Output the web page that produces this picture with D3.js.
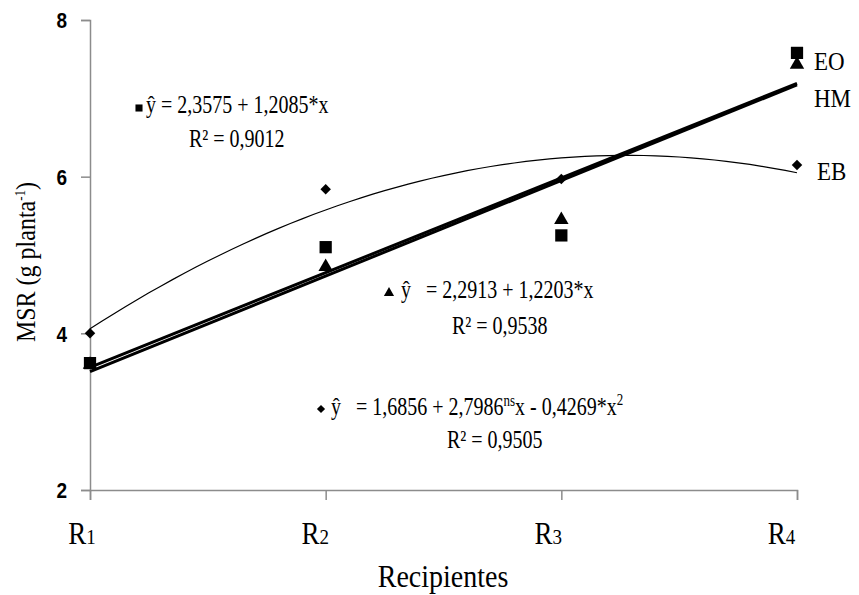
<!DOCTYPE html>
<html>
<head>
<meta charset="utf-8">
<script src="https://cdn.jsdelivr.net/npm/d3@7"></script>
<style>
  body { margin: 0; background: #fff; }
  svg { display: block; }
  text { font-family: "Liberation Serif", "Times New Roman", serif; fill: #000; }
  .ytick text { font-family: "Liberation Sans", Arial, sans-serif; font-weight: bold; }
</style>
</head>
<body>
<svg width="859" height="595"></svg>
<script>
const recipients = ["R1", "R2", "R3", "R4"];
const xs = [1, 2, 3, 4];
const eoValues = [3.62, 5.1, 5.25, 7.58];   // squares
const hmValues = [3.6, 4.85, 5.45, 7.43];   // triangles
const ebValues = [4.0, 5.84, 5.97, 6.15];   // diamonds
const yTicks = [2, 4, 6, 8];

const eoFit = [2.3575, 1.2085];
const hmFit = [2.2913, 1.2203];
const ebFit = [1.6856, 2.7986, -0.4269];

const svg = d3.select("svg");
const x = d3.scaleLinear().domain([1, 4]).range([90, 797]);
const y = d3.scaleLinear().domain([2, 8]).range([490, 20]);

// text that is a bit taller than wide, like the original export
function label(px, py, size, sy, anchor) {
  return svg.append("text")
    .attr("transform", `translate(${px},${py}) scale(1,${sy})`)
    .attr("font-size", size)
    .attr("text-anchor", anchor || "start")
    .attr("xml:space", "preserve");
}

// axes
const yAxis = svg.append("g").attr("class", "ytick").attr("transform", "translate(90,0)")
  .call(d3.axisLeft(y).tickValues(yTicks).tickSize(9).tickPadding(14).tickFormat(d3.format("d")));
yAxis.selectAll(".tick text").attr("font-size", 19).attr("dy", "0.36em")
  .attr("transform", "scale(1,1.15)");

svg.append("g").attr("transform", "translate(0,490)")
  .call(d3.axisBottom(x).tickValues(xs).tickSize(10).tickFormat(""));

svg.selectAll(".domain, .tick line").attr("stroke", "#8c8c8c").attr("stroke-width", 1.5);

// x tick labels: R with small digit
recipients.forEach((r, i) => {
  const t = label(x(xs[i]) - 8 - 2.5 * i, 544, 27, 1.15, "middle");
  t.append("tspan").text(r[0]);
  t.append("tspan").attr("font-size", 19).text(r.slice(1));
});

label(443, 587, 28, 1.1, "middle").text("Recipientes");

const yt = svg.append("text").attr("transform", "translate(35,262) rotate(-90) scale(1,1.15)")
  .attr("text-anchor", "middle").attr("font-size", 24);
yt.append("tspan").text("MSR (g planta");
yt.append("tspan").attr("font-size", 13).attr("dy", -9).text("-1");
yt.append("tspan").attr("dy", 9).text(")");

// regression lines
const grid = d3.range(1, 4.001, 0.05);
const line = d3.line().x(d => x(d[0])).y(d => y(d[1]));

svg.append("path").datum(grid.map(v => [v, ebFit[0] + ebFit[1] * v + ebFit[2] * v * v]))
  .attr("d", line).attr("fill", "none").attr("stroke", "#000").attr("stroke-width", 1.2);
svg.append("path").datum([1, 4].map(v => [v, eoFit[0] + eoFit[1] * v]))
  .attr("d", line).attr("fill", "none").attr("stroke", "#000").attr("stroke-width", 3);
svg.append("path").datum([1, 4].map(v => [v, hmFit[0] + hmFit[1] * v]))
  .attr("d", line).attr("fill", "none").attr("stroke", "#000").attr("stroke-width", 3);

// points
const sym = (type, size) => d3.symbol().type(type).size(size)();
svg.selectAll(".hm").data(hmValues).enter().append("path")
  .attr("transform", (d, i) => `translate(${x(xs[i])},${y(d)})`)
  .attr("d", sym(d3.symbolTriangle, 90));
svg.selectAll(".eo").data(eoValues).enter().append("path")
  .attr("transform", (d, i) => `translate(${x(xs[i])},${y(d)})`)
  .attr("d", sym(d3.symbolSquare, 150));
svg.selectAll(".eb").data(ebValues).enter().append("path")
  .attr("transform", (d, i) => `translate(${x(xs[i])},${y(d)}) rotate(45)`)
  .attr("d", sym(d3.symbolSquare, 55));

// series labels
label(814, 70, 23, 1.1).text("EO");
label(814, 107, 23, 1.1).text("HM");
label(817, 180, 23, 1.1).text("EB");

// equations
svg.append("path").attr("transform", "translate(139,108)").attr("d", sym(d3.symbolSquare, 50));
label(146, 113, 20, 1.25).text("ŷ = 2,3575 + 1,2085*x");
label(189, 147, 20, 1.25).text("R² = 0,9012");

svg.append("path").attr("transform", "translate(389,293)").attr("d", sym(d3.symbolTriangle, 45));
label(401, 298, 20, 1.25).text("ŷ   = 2,2913 + 1,2203*x");
label(452, 334, 20, 1.25).text("R² = 0,9538");

svg.append("path").attr("transform", "translate(321,409) rotate(45)").attr("d", sym(d3.symbolSquare, 34));
const e3 = label(331, 415, 20, 1.25);
e3.append("tspan").text("ŷ   = 1,6856 + 2,7986");
e3.append("tspan").attr("font-size", 13).attr("dy", -7).text("ns");
e3.append("tspan").attr("dy", 7).text("x - 0,4269*x");
e3.append("tspan").attr("font-size", 13).attr("dy", -8).text("2");
label(447, 448, 20, 1.25).text("R² = 0,9505");
</script>
</body>
</html>
